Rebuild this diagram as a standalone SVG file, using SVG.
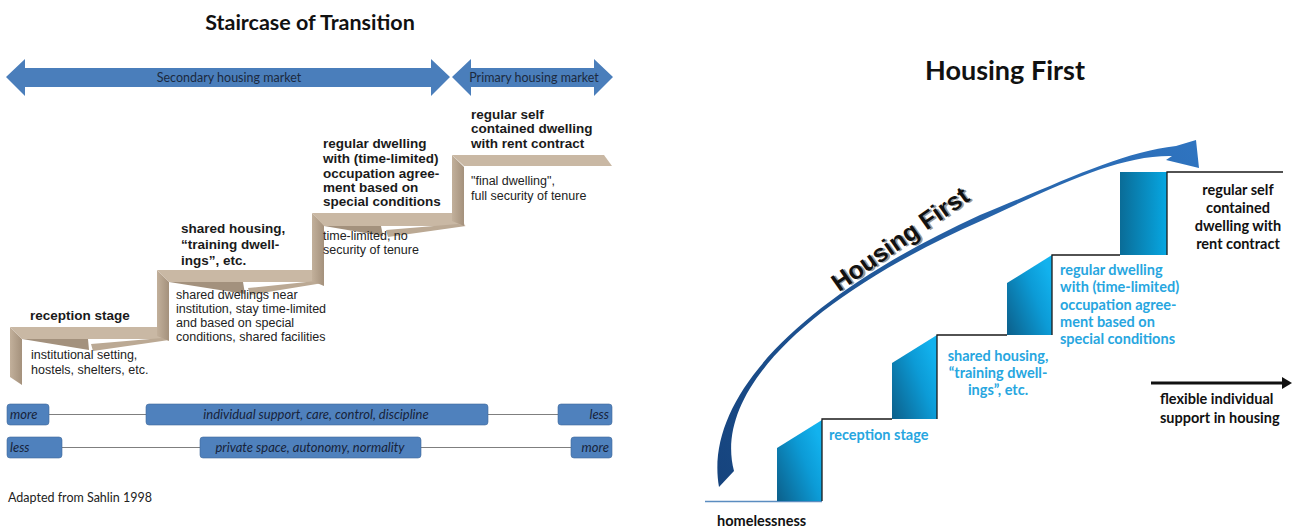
<svg xmlns="http://www.w3.org/2000/svg" width="1292" height="529" viewBox="0 0 1292 529">
<defs>
<style>
.title{font-family:Lato,"Liberation Sans",sans-serif;font-weight:bold;fill:#111}
.mk{font-family:Lato,"Liberation Sans",sans-serif;font-size:12.5px;fill:#1c2a40;text-anchor:middle}
.bl{font-family:"Liberation Sans",Arial,sans-serif;font-weight:bold;font-size:13.5px;fill:#1a1a1a}
.sm{font-family:"Liberation Sans",Arial,sans-serif;font-size:12.5px;fill:#222}
.bx{fill:#4F81BD;stroke:#41699a;stroke-width:0.6}
.bt{font-family:Lato,"Liberation Sans",sans-serif;font-style:italic;font-size:13px;fill:#17233a}
.ln{stroke:#7f7f7f;stroke-width:1}
.arr{fill:#4A7EBB}
.tread{fill:#C9B8A4}
.riser{fill:url(#rg)}
.wl{fill:#A3917D}
.wr{fill:#BBA994}
.cb{font-family:Lato,"Liberation Sans",sans-serif;font-weight:bold;font-size:14.5px;fill:#27A6E0}
.ck{font-family:Lato,"Liberation Sans",sans-serif;font-weight:bold;font-size:14.5px;fill:#111}
.blk{fill:url(#bg)}
</style>
<linearGradient id="rg" x1="0" y1="0" x2="1" y2="0">
<stop offset="0" stop-color="#C2B09B"/><stop offset="1" stop-color="#A4917C"/>
</linearGradient>
<linearGradient id="bg" x1="0" y1="1" x2="1" y2="0.3">
<stop offset="0" stop-color="#0C5F8A"/><stop offset="0.65" stop-color="#0C9BD6"/><stop offset="1" stop-color="#12B2EE"/>
</linearGradient>
<linearGradient id="bg4" x1="0" y1="0" x2="1" y2="0">
<stop offset="0" stop-color="#0A6C97"/><stop offset="1" stop-color="#07A7E2"/>
</linearGradient>
<linearGradient id="cg" gradientUnits="userSpaceOnUse" x1="720" y1="480" x2="1200" y2="150">
<stop offset="0" stop-color="#16447E"/><stop offset="1" stop-color="#2F74C0"/>
</linearGradient>
</defs>
<rect width="1292" height="529" fill="#fff"/>

<g id="left-title"><text class="title" x="310" y="30" font-size="21.5" text-anchor="middle">Staircase of Transition</text></g>

<g id="market-arrows">
<g id="secondary-market">
<polygon class="arr" points="6,77 25,59 25,68 431,68 431,59 450,77 431,96 431,87 25,87 25,96"/>
<text class="mk" x="229" y="81.5">Secondary housing market</text>
</g>
<g id="primary-market">
<polygon class="arr" points="452,77 471,59 471,68 594,68 594,59 613,77 594,96 594,87 471,87 471,96"/>
<text class="mk" x="534" y="81.5">Primary housing market</text>
</g>
</g>

<g id="staircase">
<g id="step1">
<polygon class="riser" points="10,327 22,339 22,385 10,377"/>
<polygon class="tread" points="10,327 162,327 167,339 22,339"/>
<polygon class="wl" points="22,339 88,339 89,350"/>
<polygon class="wr" points="93,351 91,344 162,338 169,340"/>
</g>
<g id="step2">
<polygon class="riser" points="157,270 169,282 169,341 157,336"/>
<polygon class="tread" points="157,270 315,270 320,282 169,282"/>
<polygon class="wl" points="169,282 243,282 245,294"/>
<polygon class="wr" points="250,295 248,288 316,281 323,283"/>
</g>
<g id="step3">
<polygon class="riser" points="312,213 324,225 324,286 312,281"/>
<polygon class="tread" points="312,213 460,213 465,226 324,226"/>
<polygon class="wl" points="324,226 381,226 383,236"/>
<polygon class="wr" points="388,237 386,230 458,224 466,226"/>
</g>
<g id="step4">
<polygon class="riser" points="452,155 464,167 464,226 452,221"/>
<polygon class="tread" points="452,155 604,155 612,166 464,166"/>
</g>
</g>

<g id="stage-reception">
<text class="bl" x="30" y="320">reception stage</text>
<text class="sm" x="31" y="359">institutional setting,</text>
<text class="sm" x="31" y="374">hostels, shelters, etc.</text>
</g>
<g id="stage-shared">
<text class="bl" x="181" y="233">shared housing,</text>
<text class="bl" x="181" y="249">“training dwell-</text>
<text class="bl" x="181" y="265">ings”, etc.</text>
<text class="sm" x="176" y="299">shared dwellings near</text>
<text class="sm" x="176" y="313">institution, stay time-limited</text>
<text class="sm" x="176" y="327">and based on special</text>
<text class="sm" x="176" y="341">conditions, shared facilities</text>
</g>
<g id="stage-regular">
<text class="bl" x="323" y="148">regular dwelling</text>
<text class="bl" x="323" y="163">with (time-limited)</text>
<text class="bl" x="323" y="178">occupation agree-</text>
<text class="bl" x="323" y="192">ment based on</text>
<text class="bl" x="323" y="206">special conditions</text>
<text class="sm" x="323" y="240">time-limited, no</text>
<text class="sm" x="323" y="254">security of tenure</text>
</g>
<g id="stage-self">
<text class="bl" x="471" y="119">regular self</text>
<text class="bl" x="471" y="133">contained dwelling</text>
<text class="bl" x="471" y="148">with rent contract</text>
<text class="sm" x="471" y="185">"final dwelling",</text>
<text class="sm" x="471" y="200">full security of tenure</text>
</g>

<g id="scales">
<g id="scale-support">
<line class="ln" x1="49" y1="414.5" x2="146" y2="414.5"/>
<line class="ln" x1="488" y1="414.5" x2="558" y2="414.5"/>
<rect class="bx" x="7" y="404" width="42" height="21" rx="3"/>
<rect class="bx" x="146" y="404" width="342" height="21" rx="3"/>
<rect class="bx" x="558" y="404" width="54" height="21" rx="3"/>
<text class="bt" x="10" y="419">more</text>
<text class="bt" x="316" y="419" text-anchor="middle">individual support, care, control, discipline</text>
<text class="bt" x="609" y="419" text-anchor="end">less</text>
</g>
<g id="scale-autonomy">
<line class="ln" x1="62" y1="447.5" x2="200" y2="447.5"/>
<line class="ln" x1="421" y1="447.5" x2="571" y2="447.5"/>
<rect class="bx" x="7" y="437" width="55" height="21" rx="3"/>
<rect class="bx" x="200" y="437" width="221" height="21" rx="3"/>
<rect class="bx" x="571" y="437" width="41" height="21" rx="3"/>
<text class="bt" x="10" y="452">less</text>
<text class="bt" x="310" y="452" text-anchor="middle">private space, autonomy, normality</text>
<text class="bt" x="609" y="452" text-anchor="end">more</text>
</g>
</g>

<g id="source"><text x="8" y="502" font-family="Lato,'Liberation Sans',sans-serif" font-size="12.5" fill="#222">Adapted from Sahlin 1998</text></g>

<g id="right-title"><text class="title" x="1005" y="80" font-size="27" text-anchor="middle">Housing First</text></g>

<g id="hf-steps">
<line x1="705" y1="501.5" x2="822" y2="501.5" stroke="#5B8DC0" stroke-width="1.5"/>
<polygon class="blk" points="777,448 822,420 822,501 777,501"/>
<polygon class="blk" points="892,363 937,335 937,419 892,419"/>
<polygon class="blk" points="1007,283 1052,255 1052,335 1007,335"/>
<rect x="1120" y="172" width="47" height="83" fill="url(#bg4)"/>
<path d="M822,501 V419 H892 M937,419 V335 H1007 M1052,335 V255 H1120 M1167,255 V172 H1283" fill="none" stroke="#1a1a1a" stroke-width="1.3"/>
</g>

<g id="connectors">
<path id="hf-arrow" d="M719,487 C703,395 805,295 980,215 C1060,183 1120,152 1176,146 L1196,140 L1199,168 L1166,160 L1172,156 C1120,155 1060,184 983,220 C808,297 713,392 734,471 Z" fill="url(#cg)"/>
<g id="support-arrow">
<line x1="1151" y1="383" x2="1284" y2="383" stroke="#111" stroke-width="3"/>
<polygon points="1282,377 1292,383 1282,389" fill="#111"/>
</g>
</g>

<g id="hf-label">
<text x="0" y="0" transform="translate(905,246) rotate(-35)" font-family="'Liberation Sans',Arial,sans-serif" font-weight="bold" font-size="25" fill="#999" text-anchor="middle" dx="1.5" dy="1.5">Housing First</text>
<text x="0" y="0" transform="translate(905,246) rotate(-35)" font-family="'Liberation Sans',Arial,sans-serif" font-weight="bold" font-size="25" fill="#111" text-anchor="middle">Housing First</text>
</g>

<g id="hf-homelessness"><text class="ck" x="717" y="526">homelessness</text></g>
<g id="hf-reception"><text class="cb" x="829" y="440">reception stage</text></g>
<g id="hf-shared">
<text class="cb" x="998" y="361" text-anchor="middle">shared housing,</text>
<text class="cb" x="998" y="378" text-anchor="middle">“training dwell-</text>
<text class="cb" x="998" y="395" text-anchor="middle">ings”, etc.</text>
</g>
<g id="hf-regular">
<text class="cb" x="1060" y="275">regular dwelling</text>
<text class="cb" x="1060" y="292">with (time-limited)</text>
<text class="cb" x="1060" y="310">occupation agree-</text>
<text class="cb" x="1060" y="327">ment based on</text>
<text class="cb" x="1060" y="344">special conditions</text>
</g>
<g id="hf-self">
<text class="ck" x="1238" y="195" text-anchor="middle">regular self</text>
<text class="ck" x="1238" y="213" text-anchor="middle">contained</text>
<text class="ck" x="1238" y="231" text-anchor="middle">dwelling with</text>
<text class="ck" x="1238" y="249" text-anchor="middle">rent contract</text>
</g>
<g id="hf-support">
<text class="ck" x="1160" y="404">flexible individual</text>
<text class="ck" x="1160" y="423">support in housing</text>
</g>
</svg>
